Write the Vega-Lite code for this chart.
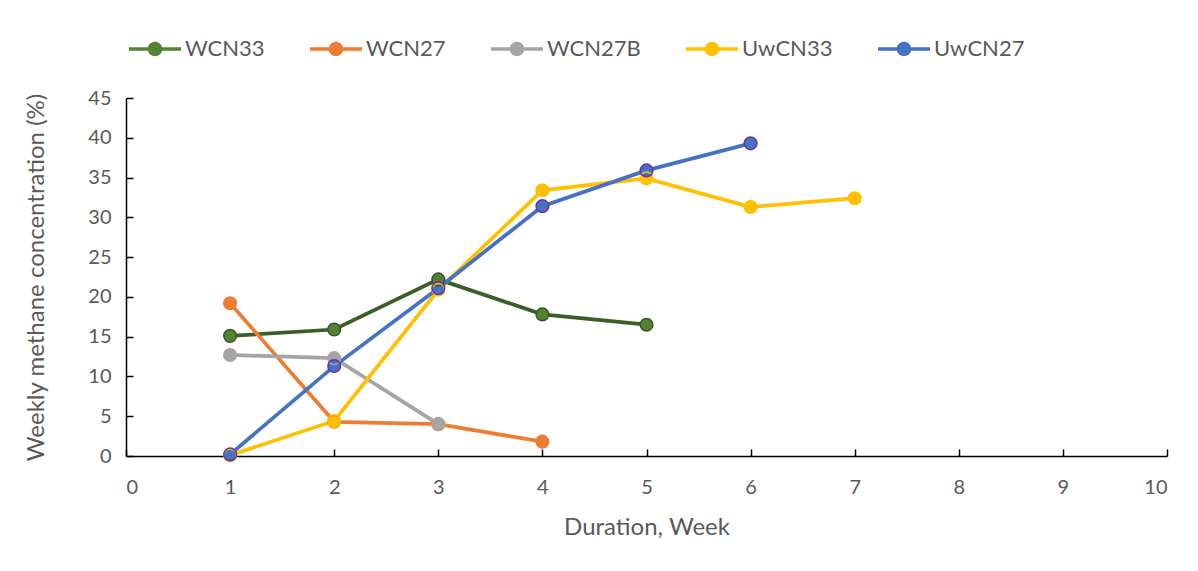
{
  "$schema": "https://vega.github.io/schema/vega-lite/v6.json",
  "width": 1041,
  "height": 358,
  "autosize": {"type": "none"},
  "padding": {"left": 126, "top": 98, "right": 31, "bottom": 115},
  "background": "white",
  "config": {
    "font": "Lato",
    "view": {"stroke": null},
    "axis": {
      "domainColor": "#000000",
      "domainWidth": 1.5,
      "tickColor": "#000000",
      "tickWidth": 1.5,
      "tickSize": -7,
      "grid": false,
      "labelColor": "#595959",
      "labelFontSize": 20,
      "labelFont": "Lato",
      "titleColor": "#595959",
      "titleFontSize": 24,
      "titleFontWeight": "normal",
      "titleFont": "Lato"
    }
  },
  "data": {
    "values": [
      {"series": "WCN33", "week": 1, "ch4": 15.1},
      {"series": "WCN33", "week": 2, "ch4": 15.9},
      {"series": "WCN33", "week": 3, "ch4": 22.2},
      {"series": "WCN33", "week": 4, "ch4": 17.8},
      {"series": "WCN33", "week": 5, "ch4": 16.5},
      {"series": "WCN27", "week": 1, "ch4": 19.2},
      {"series": "WCN27", "week": 2, "ch4": 4.3},
      {"series": "WCN27", "week": 3, "ch4": 4.0},
      {"series": "WCN27", "week": 4, "ch4": 1.8},
      {"series": "WCN27B", "week": 1, "ch4": 12.7},
      {"series": "WCN27B", "week": 2, "ch4": 12.3},
      {"series": "WCN27B", "week": 3, "ch4": 4.0},
      {"series": "UwCN33", "week": 1, "ch4": 0.1},
      {"series": "UwCN33", "week": 2, "ch4": 4.4},
      {"series": "UwCN33", "week": 3, "ch4": 20.9},
      {"series": "UwCN33", "week": 4, "ch4": 33.4},
      {"series": "UwCN33", "week": 5, "ch4": 34.9},
      {"series": "UwCN33", "week": 6, "ch4": 31.3},
      {"series": "UwCN33", "week": 7, "ch4": 32.4},
      {"series": "UwCN27", "week": 1, "ch4": 0.2},
      {"series": "UwCN27", "week": 2, "ch4": 11.3},
      {"series": "UwCN27", "week": 3, "ch4": 21.1},
      {"series": "UwCN27", "week": 4, "ch4": 31.4},
      {"series": "UwCN27", "week": 5, "ch4": 35.9},
      {"series": "UwCN27", "week": 6, "ch4": 39.3}
    ]
  },
  "encoding": {
    "x": {
      "field": "week",
      "type": "quantitative",
      "scale": {"domain": [0, 10], "nice": false, "zero": false},
      "axis": {"values": [0,1,2,3,4,5,6,7,8,9,10], "format": "d", "labelPadding": 28, "title": "Duration, Week", "titlePadding": 18}
    },
    "y": {
      "field": "ch4",
      "type": "quantitative",
      "scale": {"domain": [0, 45], "nice": false},
      "axis": {"values": [0,5,10,15,20,25,30,35,40,45], "labelPadding": 22, "title": "Weekly methane concentration (%)", "titlePadding": 39}
    }
  },
  "resolve": {"legend": {"color": "independent", "fill": "independent", "stroke": "independent"}},
  "layer": [
    {
      "mark": {"type": "line", "strokeWidth": 3.75},
      "encoding": {
        "color": {
          "field": "series",
          "type": "nominal",
          "scale": {
            "domain": ["WCN33", "WCN27", "WCN27B", "UwCN33", "UwCN27"],
            "range": ["#3B5E24", "#ED7D31", "#A5A5A5", "#FFC000", "#4472C4"]
          },
          "legend": null
        },
        "order": {"field": "week", "type": "quantitative"}
      }
    },
    {
      "mark": {"type": "point", "filled": true, "size": 160, "opacity": 1, "strokeWidth": 0},
      "encoding": {
        "fill": {
          "field": "series",
          "type": "nominal",
          "scale": {
            "domain": ["WCN33", "WCN27", "WCN27B", "UwCN33", "UwCN27"],
            "range": ["#548235", "#ED7D31", "#A5A5A5", "#FFC000", "#4472C4"]
          },
          "legend": {
            "title": null,
            "orient": "none",
            "legendX": 3,
            "legendY": -75,
            "direction": "horizontal",
            "columns": 5,
            "columnPadding": 45,
            "symbolType": "M-1,-0.07H-0.271A0.28,0.28 0 0,1 0.271,-0.07H1V0.07H0.271A0.28,0.28 0 0,1 -0.271,0.07H-1Z",
            "symbolSize": 2704,
            "symbolStrokeWidth": 0,
            "symbolOpacity": 1,
            "labelFontSize": 22,
            "labelColor": "#595959",
            "labelFont": "Lato",
            "labelOffset": 4
          }
        }
      }
    },
    {
      "mark": {"type": "point", "filled": false, "size": 160, "opacity": 1, "strokeWidth": 1.5},
      "encoding": {
        "stroke": {
          "field": "series",
          "type": "nominal",
          "scale": {
            "domain": ["WCN33", "WCN27", "WCN27B", "UwCN33", "UwCN27"],
            "range": ["#375623", "#ED7D31", "#A5A5A5", "#FFC000", "#7030A0"]
          },
          "legend": null
        }
      }
    }
  ]
}
